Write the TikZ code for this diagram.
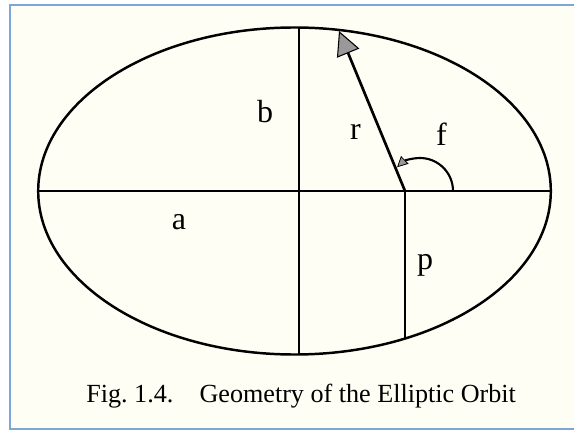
\documentclass[tikz,border=0pt]{standalone}
\usepackage{fontspec}
\setmainfont{Liberation Serif}
\usetikzlibrary{arrows.meta}
\definecolor{paper}{RGB}{254,254,244}
\definecolor{framecol}{RGB}{125,165,215}
\begin{document}
\begin{tikzpicture}[x=0.75pt,y=-0.75pt,
  curve/.style={line width=1.85pt},
  axisline/.style={line width=1.6pt},
  lbl/.style={inner sep=0pt,font=\fontsize{24}{28}\selectfont},
  bigtip/.style={-{Triangle[length=18pt,width=18pt,fill=black!40,line width=0.8pt]}},
  smalltip/.style={-{Triangle[length=8pt,width=8pt,fill=black!40,line width=0.6pt]}}
  ]
\useasboundingbox (0,0) rectangle (574,431);
\fill[white] (0,0) rectangle (574,431);
\fill[paper] (9.5,5) rectangle (574,429);
\draw[framecol,line width=1.5pt] (576,5) -- (9.5,5) -- (9.5,429) -- (576,429);

\coordinate (C) at (294.5,191);
\coordinate (L) at (38.2,191);
\coordinate (R) at (550.8,191);
\coordinate (T) at (299,27.6);
\coordinate (B) at (299,354.4);
\coordinate (F) at (405,191);
\coordinate (P) at (405,338.5);
\coordinate (Rtip) at (339,31);
\coordinate (Fs) at (453,191);

\draw[curve] (C) ellipse [x radius=256.3, y radius=163.5];
\draw[axisline] (L) -- (R);
\draw[axisline] (T) -- (B);
\draw[axisline] (F) -- (P);
\draw[line width=2pt,bigtip] (F) -- (Rtip);
\draw[line width=1.6pt,smalltip] (Fs) arc[start angle=0,end angle=-134,radius=33];

\node[lbl] (lb) at (265,112) {b};
\node[lbl] (lr) at (355.5,131.5) {r};
\node[lbl] (lf) at (441.5,134) {f};
\node[lbl] (la) at (179,222) {a};
\node[lbl] (lp) at (425,265) {p};
\node[inner sep=0pt,anchor=base west,font=\fontsize{19.6}{23}\selectfont] (cap) at (86,402) {Fig.\ 1.4.\hspace{1em}Geometry of the Elliptic Orbit};
\end{tikzpicture}
\end{document}
